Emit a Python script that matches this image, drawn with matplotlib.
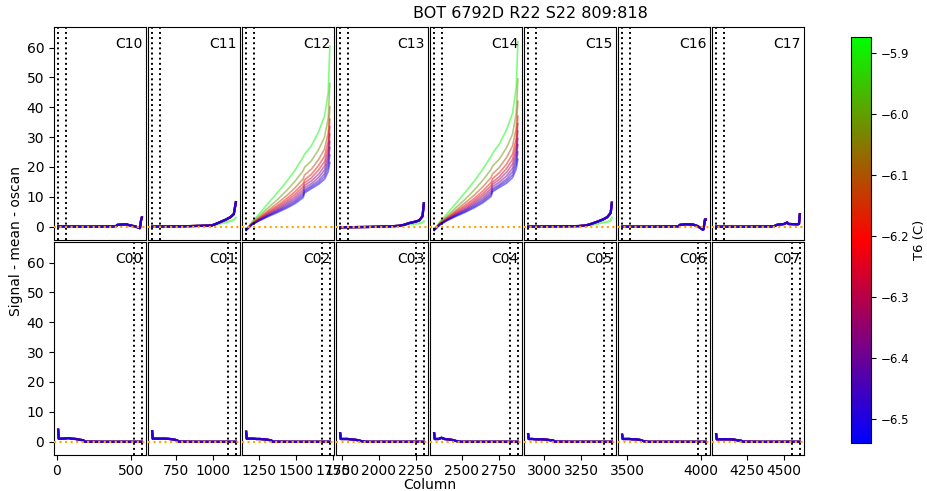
import matplotlib
matplotlib.use('Agg')
import matplotlib.pyplot as plt
from matplotlib import cm, colors

# T6 temperature of each exposure (warmest first, plotted first)
temps = [-5.88, -6.01, -6.11, -6.20, -6.27, -6.33, -6.39, -6.44, -6.49, -6.53]

top_names = ['C10', 'C11', 'C12', 'C13', 'C14', 'C15', 'C16', 'C17']
bottom_names = ['C00', 'C01', 'C02', 'C03', 'C04', 'C05', 'C06', 'C07']

seg_width = 576
top_marks = [10, 64]
bottom_marks = [522, 576]

xticks = [[0, 500], [750, 1000], [1250, 1500, 1750], [1750, 2000, 2250],
          [2500, 2750], [3000, 3250], [3500, 4000], [4250, 4500]]
cbar_ticks = [-5.9, -6.0, -6.1, -6.2, -6.3, -6.4, -6.5]

# ramps in C12 / C14, one row per exposure (same order as temps)
ramp_x = [10, 50, 100, 160, 220, 280, 340, 395, 405, 450, 500, 540, 565, 576]
c12_ramps = [
    [-1.0, 1.6, 4.4, 7.9, 11.3, 14.9, 18.9, 23.2, 24.3, 27.0, 31.8, 37.0, 45.0, 60.5],
    [-1.0, 1.3, 3.6, 6.4, 9.0, 11.9, 15.2, 18.7, 19.9, 22.0, 25.8, 30.0, 36.5, 48.0],
    [-1.0, 1.1, 3.1, 5.5, 7.8, 10.2, 13.0, 16.0, 17.3, 19.2, 22.5, 26.0, 31.5, 40.2],
    [-1.0, 1.0, 2.8, 5.0, 7.0, 9.2, 11.7, 14.4, 15.7, 17.5, 20.5, 23.6, 28.5, 36.0],
    [-1.1, 0.9, 2.6, 4.6, 6.5, 8.5, 10.8, 13.3, 14.7, 16.3, 19.0, 21.8, 26.3, 33.5],
    [-1.1, 0.9, 2.4, 4.3, 6.0, 7.9, 10.0, 12.4, 13.8, 15.3, 17.6, 20.3, 24.5, 31.0],
    [-1.1, 0.8, 2.3, 4.0, 5.6, 7.4, 9.3, 11.6, 13.0, 14.4, 16.5, 19.0, 23.0, 28.5],
    [-1.2, 0.8, 2.2, 3.8, 5.3, 6.9, 8.7, 10.9, 12.3, 13.7, 15.5, 17.8, 21.5, 26.5],
    [-1.2, 0.7, 2.1, 3.6, 5.0, 6.5, 8.2, 10.3, 11.8, 13.2, 14.8, 16.8, 20.0, 24.0],
    [-1.2, 0.7, 2.0, 3.4, 4.7, 6.1, 7.7, 9.7, 11.3, 12.7, 14.2, 15.9, 18.5, 21.5],
]
c14_ramps = [
    [-1.0, 1.7, 4.5, 8.0, 11.5, 15.2, 19.3, 23.6, 24.6, 27.6, 32.5, 38.0, 46.5, 62.0],
    [-1.0, 1.4, 3.7, 6.5, 9.2, 12.2, 15.6, 19.2, 20.3, 22.6, 26.5, 31.0, 38.0, 49.5],
    [-1.0, 1.2, 3.2, 5.6, 8.0, 10.5, 13.4, 16.5, 17.7, 19.8, 23.2, 27.0, 33.0, 42.0],
    [-1.0, 1.0, 2.9, 5.1, 7.2, 9.4, 12.0, 14.8, 16.1, 18.0, 21.0, 24.3, 29.5, 37.0],
    [-1.1, 0.9, 2.7, 4.7, 6.6, 8.7, 11.1, 13.7, 15.0, 16.7, 19.5, 22.5, 27.2, 34.5],
    [-1.1, 0.9, 2.5, 4.4, 6.1, 8.1, 10.3, 12.8, 14.2, 15.8, 18.2, 21.0, 25.3, 32.0],
    [-1.1, 0.8, 2.4, 4.1, 5.7, 7.6, 9.6, 12.0, 13.4, 14.9, 17.0, 19.6, 23.7, 29.5],
    [-1.2, 0.8, 2.3, 3.9, 5.4, 7.1, 9.0, 11.3, 12.7, 14.1, 16.0, 18.4, 22.2, 27.5],
    [-1.2, 0.7, 2.2, 3.7, 5.1, 6.7, 8.5, 10.7, 12.2, 13.6, 15.3, 17.3, 20.8, 25.0],
    [-1.2, 0.7, 2.1, 3.5, 4.8, 6.3, 8.0, 10.1, 11.7, 13.1, 14.6, 16.4, 19.3, 22.6],
]

# near-flat top segments: x, coldest profile, warmest profile
c10_x = [10, 200, 400, 410, 470, 490, 530, 563, 570, 576]
c10_cold = [0.1, 0.0, 0.1, 0.6, 0.8, 0.5, 0.1, -0.5, 2.0, 3.1]
c10_warm = [0.1, 0.0, 0.1, 0.6, 0.8, 0.5, 0.1, -0.4, 1.8, 2.9]

c11_x = [10, 200, 350, 412, 440, 468, 510, 540, 562, 576]
c11_cold = [0.0, 0.1, 0.3, 0.4, 0.9, 1.5, 2.4, 3.2, 4.2, 8.2]
c11_warm = [0.0, 0.1, 0.3, 0.4, 0.7, 1.0, 1.5, 1.9, 2.3, 3.0]

c13_x = [10, 200, 350, 410, 440, 477, 520, 545, 567, 576]
c13_cold = [-0.2, -0.1, 0.1, 0.3, 0.6, 1.2, 1.7, 2.1, 3.5, 7.8]
c13_warm = [-0.2, -0.1, 0.1, 0.3, 0.5, 0.8, 1.0, 1.1, 1.4, 1.8]

c15_x = [10, 200, 350, 400, 440, 480, 520, 545, 568, 576]
c15_cold = [0.0, 0.1, 0.2, 0.4, 1.0, 1.7, 2.5, 3.2, 4.6, 8.0]
c15_warm = [0.0, 0.1, 0.2, 0.3, 0.6, 1.0, 1.4, 1.6, 2.0, 3.0]

c16_x = [10, 200, 390, 400, 440, 490, 520, 555, 560, 570, 576]
c16_cold = [0.0, 0.0, 0.1, 0.6, 0.8, 0.7, 0.2, -1.0, -0.9, 2.4, 2.4]
c16_warm = [0.0, 0.0, 0.1, 0.6, 0.8, 0.7, 0.2, -0.8, -0.7, 2.2, 2.2]

c17_x = [10, 200, 400, 420, 470, 490, 500, 560, 570, 576]
c17_cold = [0.0, 0.0, 0.1, 0.6, 0.9, 1.4, 0.9, 0.8, 0.9, 4.2]
c17_warm = [0.0, 0.0, 0.1, 0.6, 0.9, 1.3, 0.9, 0.8, 0.9, 3.8]

# bottom segments (all exposures look the same)
bottom_x = [10, 14, 40, 60, 80, 100, 130, 160, 180, 190, 300, 450, 576]
c00_y = [4.0, 1.0, 1.0, 1.1, 1.2, 1.0, 0.9, 0.6, 0.5, 0.0, -0.05, -0.05, -0.05]
c01_y = [3.5, 1.0, 1.0, 1.0, 1.0, 1.0, 0.9, 0.7, 0.4, 0.0, -0.05, -0.05, -0.05]
c02_y = [3.3, 1.0, 1.0, 1.0, 0.9, 0.9, 0.8, 0.6, 0.4, 0.0, -0.05, -0.05, -0.05]
c03_y = [2.8, 0.9, 0.9, 0.9, 0.8, 0.7, 0.5, 0.1, 0.0, -0.05, -0.05, -0.05, -0.05]
c04_y = [2.8, 0.9, 0.9, 1.3, 0.9, 0.8, 0.6, 0.2, 0.0, -0.05, -0.05, -0.05, -0.05]
c05_y = [2.5, 0.9, 0.9, 0.8, 0.8, 0.8, 0.7, 0.5, 0.4, 0.0, -0.05, -0.05, -0.05]
c06_y = [2.3, 0.9, 0.9, 0.9, 0.8, 0.8, 0.6, 0.1, 0.0, -0.05, -0.05, -0.05, -0.05]
c07_y = [2.5, 0.8, 0.8, 0.8, 0.8, 0.8, 0.7, 0.4, 0.3, 0.0, -0.05, -0.05, -0.05]

flat_top = {'C10': (c10_x, c10_cold, c10_warm), 'C11': (c11_x, c11_cold, c11_warm),
            'C13': (c13_x, c13_cold, c13_warm), 'C15': (c15_x, c15_cold, c15_warm),
            'C16': (c16_x, c16_cold, c16_warm), 'C17': (c17_x, c17_cold, c17_warm)}
ramps = {'C12': c12_ramps, 'C14': c14_ramps}
bottom = {'C00': c00_y, 'C01': c01_y, 'C02': c02_y, 'C03': c03_y,
          'C04': c04_y, 'C05': c05_y, 'C06': c06_y, 'C07': c07_y}

norm = colors.Normalize(vmin=-6.54, vmax=-5.873)
cmap = plt.get_cmap('brg')

W, H = 928, 491
fig = plt.figure(figsize=(W / 100, H / 100), dpi=100)


def box(left, top, width, height):
    return [left / W, 1 - (top + height) / H, width / W, height / H]


axes = [[None] * 8, [None] * 8]
first = None
for row in range(2):
    top = 27 if row == 0 else 242
    for i in range(8):
        ax = fig.add_axes(box(54 + 94 * i, top, 92, 212.5), sharey=first)
        if first is None:
            first = ax
        axes[row][i] = ax

for row, names in enumerate([top_names, bottom_names]):
    for i, name in enumerate(names):
        ax = axes[row][i]
        off = i * seg_width
        if name in ramps:
            for t, y in zip(temps, ramps[name]):
                ax.plot([off + x for x in ramp_x], y, color=cmap(norm(t)), lw=1.2, alpha=0.5)
        elif name in flat_top:
            xs, cold, warm = flat_top[name]
            xs = [off + x for x in xs]
            ax.plot(xs, warm, color=cmap(norm(temps[0])), lw=1.6, alpha=0.5)
            for t in temps[1:]:
                ax.plot(xs, cold, color=cmap(norm(t)), lw=1.6, alpha=0.5)
        else:
            xs = [off + x for x in bottom_x]
            for t in temps:
                ax.plot(xs, bottom[name], color=cmap(norm(t)), lw=1.6, alpha=0.5)

        marks = top_marks if row == 0 else bottom_marks
        for m in marks:
            ax.axvline(off + m, color='k', ls=':', lw=1.4)
        ax.axhline(0, color='orange', ls=':', lw=1.5, zorder=5)

        ax.set_xlim(off - 18, off + 604)
        ax.set_xticks(xticks[i])
        if row == 0:
            ax.tick_params(axis='x', bottom=False, labelbottom=False)
        if i > 0:
            ax.tick_params(axis='y', left=False, labelleft=False)
        ax.text(0.96, 0.92, name, transform=ax.transAxes, ha='right', va='center', fontsize=10)

first.set_ylim(-4.3, 66.9)
first.set_yticks([0, 10, 20, 30, 40, 50, 60])

cax = fig.add_axes(box(851, 37, 20, 406))
sm = cm.ScalarMappable(norm=norm, cmap=cmap)
cb = fig.colorbar(sm, cax=cax)
cb.set_ticks(cbar_ticks)
cax.tick_params(labelsize=8.5)
cb.set_label('T6 (C)', fontsize=9.5)
cax.yaxis.set_label_coords(3.08, 0.5)

fig.text(530 / W, 1 - 13 / H, 'BOT 6792D R22 S22 809:818', ha='center', va='center', fontsize=11.5)
fig.text(430 / W, 1 - 485 / H, 'Column', ha='center', va='center', fontsize=10)
fig.text(16 / W, 1 - 241 / H, 'Signal - mean - oscan', ha='center', va='center',
         rotation=90, fontsize=10)

fig.savefig('out.png', dpi=100)
